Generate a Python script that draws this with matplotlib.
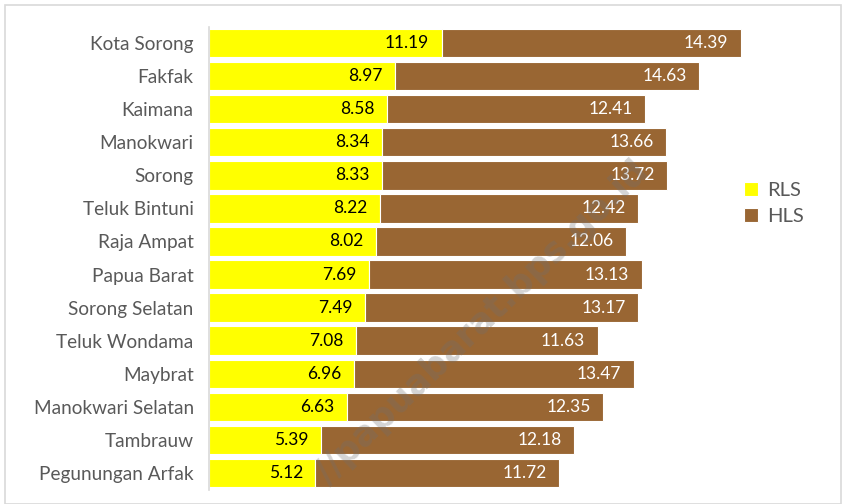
import matplotlib
matplotlib.use("Agg")
import matplotlib.pyplot as plt
from matplotlib.patches import Rectangle

regions = ["Kota Sorong", "Fakfak", "Kaimana", "Manokwari", "Sorong", "Teluk Bintuni",
           "Raja Ampat", "Papua Barat", "Sorong Selatan", "Teluk Wondama", "Maybrat",
           "Manokwari Selatan", "Tambrauw", "Pegunungan Arfak"]
rls = [11.19, 8.97, 8.58, 8.34, 8.33, 8.22, 8.02, 7.69, 7.49, 7.08, 6.96, 6.63, 5.39, 5.12]
hls = [14.39, 14.63, 12.41, 13.66, 13.72, 12.42, 12.06, 13.13, 13.17, 11.63, 13.47, 12.35, 12.18, 11.72]

plt.rcParams['font.family'] = ['Lato', 'DejaVu Sans']

W, H = 842, 504
fig = plt.figure(figsize=(W/100, H/100), dpi=100)
fig.patches.append(Rectangle((5/W, 0), (W-5)/W - 1/W, (H-5)/H, transform=fig.transFigure,
                             fill=False, edgecolor='#d9d9d9', linewidth=1.2))

xmax = 26.0
px_per_unit = 20.78
left = 209
ax = fig.add_axes([left/W, 1-489.5/H, xmax*px_per_unit/W, (489.5-26.5)/H])

yellow = '#FFFF00'
brown = '#996633'
y = list(range(len(regions)))
b1 = ax.barh(y, rls, height=0.86, color=yellow, edgecolor='white', linewidth=0.8, label='RLS')
b2 = ax.barh(y, hls, left=rls, height=0.86, color=brown, edgecolor='white', linewidth=0.8, label='HLS')

ax.bar_label(b1, labels=[f"{v:.2f}" for v in rls], label_type='edge', padding=-9,
             fontsize=12.5, color='black')
for t in ax.texts:
    t.set_ha('right')
n = len(ax.texts)
ax.bar_label(b2, labels=[f"{v:.2f}" for v in hls], label_type='edge', padding=-9,
             fontsize=12.5, color='white')
for t in ax.texts[n:]:
    t.set_ha('right')

ax.set_xlim(0, xmax)
ax.set_ylim(len(regions)-0.5, -0.5)
ax.set_yticks(y)
ax.set_yticklabels(regions, fontsize=13.7, color='#595959')
ax.tick_params(axis='y', length=0, pad=11)
ax.set_xticks([])
for s in ['top', 'right', 'bottom']:
    ax.spines[s].set_visible(False)
ax.spines['left'].set_color('#d9d9d9')
ax.spines['left'].set_linewidth(1.2)
ax.patch.set_alpha(0)

leg = fig.legend(handles=[b1, b2], labels=['RLS', 'HLS'], loc='upper left',
                 bbox_to_anchor=(726/W, 1-164/H), frameon=False, fontsize=14.5,
                 handlelength=0.7, handleheight=0.7, handletextpad=0.45, labelspacing=0.45)
for t in leg.get_texts():
    t.set_color('#595959')

fig.text(482/W, 1-322/H, "//papuabarat.bps.go.id", rotation=44, fontsize=25,
         fontweight='bold', color='#707070', alpha=0.3, ha='center', va='center',
         family='DejaVu Sans', rotation_mode='anchor')

fig.savefig("out.png", dpi=100)
